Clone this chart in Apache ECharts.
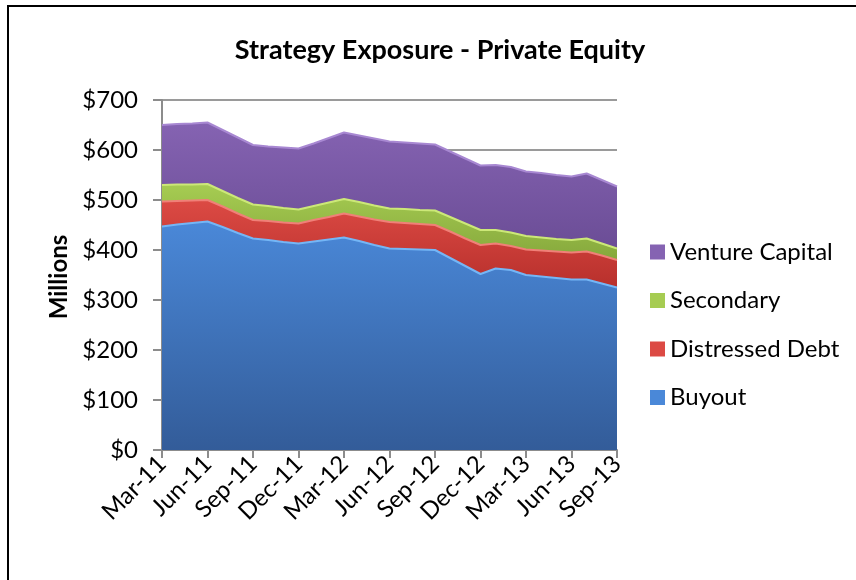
<!DOCTYPE html>
<html>
<head>
    <meta charset="UTF-8">
    <title>Strategy Exposure - Private Equity</title>
    <style>
        html,body{margin:0;padding:0;background:#fff;}
        #chart{width:856px;height:580px;}
    </style>
    <script src="https://cdn.jsdelivr.net/npm/echarts@6/dist/echarts.min.js"></script>
</head>
<body>
<div id="chart"></div>
<script>
    // monthly points, Mar-11 .. Sep-13 ($ millions)
    const months = ['Mar-11','Apr-11','May-11','Jun-11','Jul-11','Aug-11','Sep-11','Oct-11','Nov-11','Dec-11',
        'Jan-12','Feb-12','Mar-12','Apr-12','May-12','Jun-12','Jul-12','Aug-12','Sep-12','Oct-12','Nov-12','Dec-12',
        'Jan-13','Feb-13','Mar-13','Apr-13','May-13','Jun-13','Jul-13','Aug-13','Sep-13'];
    const buyout = [447,451,454,457,446,434,423,420,416,413,417,421,425,418,410,403,402,401,400,384,368,352,363,360,350,347,344,341,341,333,325];
    const distressed = [50,47,45,43,41,39,37,38,39,40,43,45,48,49,51,53,52,51,50,53,55,58,50,48,51,52,53,54,56,56,55];
    const secondary = [33,33,32,32,31,31,31,30,29,28,28,29,29,29,28,27,28,28,29,29,30,30,27,27,27,26,25,25,26,24,23];
    const venture = [120,121,122,123,122,121,119,119,121,122,125,129,133,133,134,134,133,133,132,131,130,129,130,131,129,129,128,127,130,127,124];
    const yTicks = [0,100,200,300,400,500,600,700];

    const font = 'Lato, "Liberation Sans", sans-serif';

    function grad(top, bottom) {
        return new echarts.graphic.LinearGradient(0, 0, 0, 1, [
            {offset: 0, color: top},
            {offset: 1, color: bottom}
        ]);
    }

    function areaSeries(name, data, fillTop, fillBottom, edge) {
        return {
            name: name,
            type: 'line',
            stack: 'total',
            data: data,
            showSymbol: false,
            symbol: 'none',
            lineStyle: {width: 2, color: edge},
            areaStyle: {color: grad(fillTop, fillBottom), opacity: 1},
            itemStyle: {color: fillTop},
            emphasis: {disabled: true},
            animation: false
        };
    }

    let myChart = echarts.init(document.getElementById('chart'));
    let option = {
        backgroundColor: '#fff',
        animation: false,
        title: {
            text: 'Strategy Exposure - Private Equity',
            left: 435,
            textAlign: 'center',
            top: 32,
            textStyle: {fontFamily: font, fontSize: 27, fontWeight: 'bold', color: '#000'}
        },
        legend: {
            orient: 'vertical',
            left: 645,
            top: 235,
            itemWidth: 15,
            itemHeight: 15,
            itemGap: 24.5,
            icon: 'rect',
            data: ['Venture Capital','Secondary','Distressed Debt','Buyout'],
            textStyle: {fontFamily: font, fontSize: 24, color: '#000', lineHeight: 24}
        },
        grid: {left: 162, right: 239, top: 100, bottom: 130, containLabel: false},
        xAxis: {
            type: 'category',
            data: months,
            boundaryGap: false,
            axisLine: {lineStyle: {color: '#8c8c8c', width: 2}},
            axisTick: {interval: 2, length: 8, lineStyle: {color: '#8c8c8c', width: 2}},
            axisLabel: {
                interval: 2, rotate: 45, margin: 10,
                fontFamily: font, fontSize: 24, color: '#000'
            },
            splitLine: {show: false}
        },
        yAxis: {
            type: 'value',
            min: yTicks[0],
            max: yTicks[yTicks.length - 1],
            interval: 100,
            axisLine: {show: true, lineStyle: {color: '#8c8c8c', width: 2}},
            axisTick: {show: true, length: 9, lineStyle: {color: '#8c8c8c', width: 2}},
            axisLabel: {
                margin: 24, fontFamily: font, fontSize: 24, color: '#000',
                formatter: function (v) { return '$' + v; }
            },
            splitLine: {lineStyle: {color: '#9a9a9a', width: 2}}
        },
        graphic: [{
            type: 'rect',
            shape: {x: 8, y: 6, width: 900, height: 700},
            style: {fill: 'none', stroke: '#000', lineWidth: 2},
            silent: true
        }, {
            // y axis title
            type: 'text',
            x: 59,
            y: 277,
            rotation: Math.PI / 2,
            style: {
                text: 'Millions',
                fill: '#000',
                font: 'bold 24px ' + font,
                textAlign: 'center',
                textVerticalAlign: 'middle'
            },
            silent: true
        }],
        series: [
            areaSeries('Buyout', buyout, '#4a88d8', '#335c99', '#74b6f6'),
            areaSeries('Distressed Debt', distressed, '#dc4a44', '#b8302c', '#f08078'),
            areaSeries('Secondary', secondary, '#a6cc52', '#86a83c', '#cce878'),
            areaSeries('Venture Capital', venture, '#8563b2', '#6b4d96', '#a888d2')
        ]
    };
    myChart.setOption(option);
</script>
</body>
</html>
